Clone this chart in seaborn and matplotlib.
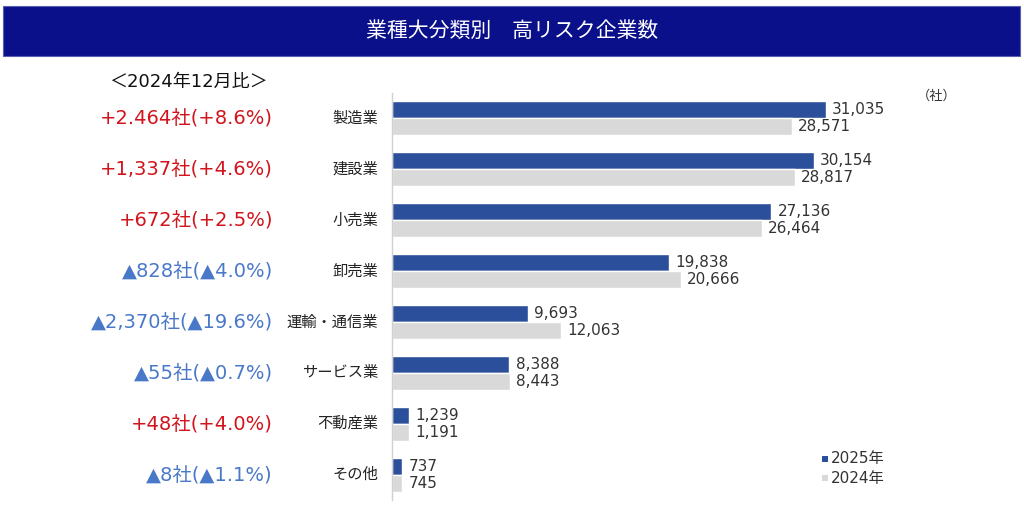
import matplotlib
matplotlib.use("Agg")
import matplotlib.pyplot as plt
import seaborn as sns
import pandas as pd
from matplotlib.patches import Rectangle

categories = ["製造業", "建設業", "小売業", "卸売業", "運輸・通信業", "サービス業", "不動産業", "その他"]
values_2025 = [31035, 30154, 27136, 19838, 9693, 8388, 1239, 737]
values_2024 = [28571, 28817, 26464, 20666, 12063, 8443, 1191, 745]
series = ["2025年", "2024年"]
change_labels = ["+2.464社(+8.6%)", "+1,337社(+4.6%)", "+672社(+2.5%)", "▲828社(▲4.0%)",
                 "▲2,370社(▲19.6%)", "▲55社(▲0.7%)", "+48社(+4.0%)", "▲8社(▲1.1%)"]
change_up = [True, True, True, False, False, False, True, False]
title = "業種大分類別　高リスク企業数"
compare_label = "＜2024年12月比＞"
unit_label = "（社）"

df = pd.DataFrame({
    "業種": categories * 2,
    "企業数": values_2025 + values_2024,
    "年": [series[0]] * len(categories) + [series[1]] * len(categories),
})

sns.set_theme(style="white")
LATIN = ["DejaVu Sans", "Noto Sans CJK JP"]
CJK = ["Noto Sans CJK JP", "DejaVu Sans"]
plt.rcParams["font.family"] = LATIN

BLUE = "#2c4f9b"
GRAY = "#d9d9d9"
NAVY = "#0a0f8a"

fig = plt.figure(figsize=(10.24, 5.05), dpi=100)
W, H = 1024, 505

def fx(px):
    return px / W

def fy(py):
    return 1 - py / H

ax = fig.add_axes([fx(392), fy(500), fx(952 - 392), (500 - 93) / H])
sns.barplot(data=df, y="業種", x="企業数", hue="年", orient="h",
            palette=[BLUE, GRAY], width=0.67, ax=ax, legend=False, saturation=1)
ax.set_xlim(0, 31035 / 434 * 560)
ax.set_ylim(len(categories) - 0.5, -0.5)
ax.set_xlabel("")
ax.set_ylabel("")
ax.set_xticks([])
ax.set_yticks([])
for s in ["top", "right", "bottom"]:
    ax.spines[s].set_visible(False)
ax.spines["left"].set_color("#d0d0d0")
ax.spines["left"].set_linewidth(1.0)

for k, container in enumerate(ax.containers):
    ax.bar_label(container, labels=[f"{int(v.get_width()):,}" for v in container],
                 padding=4.5, fontsize=11, color="#333333")

for i, cat in enumerate(categories):
    ax.annotate(cat, xy=(0, i), xycoords=("axes fraction", "data"),
                xytext=(-10, 0), textcoords="offset points", ha="right", va="center",
                fontsize=11, color="#222222", family=CJK)
    col = "#d2141c" if change_up[i] else "#4a78c8"
    ax.annotate(change_labels[i], xy=(0, i), xycoords=("axes fraction", "data"),
                xytext=(-(392 - 273) * 0.72, 0), textcoords="offset points",
                ha="right", va="center", fontsize=14, color=col)

fig.patches.append(Rectangle((fx(3), fy(56)), fx(1020 - 3), (56 - 6) / H,
                             transform=fig.transFigure, facecolor=NAVY,
                             edgecolor="#5a60b0", linewidth=0.8, zorder=0))
fig.text(fx(512), fy(31), title, ha="center", va="center", color="white",
         fontsize=15, family=CJK)

fig.text(fx(188), fy(82), compare_label, ha="center", va="center", fontsize=13, color="#111111")
fig.text(fx(937), fy(96), unit_label, ha="center", va="center", fontsize=9.5, color="#333333",
         family=CJK)

for j, (lab, col) in enumerate(zip(series, [BLUE, GRAY])):
    yy = 459 + j * 19
    fig.patches.append(Rectangle((fx(822), fy(yy + 3)), fx(6), 6 / H,
                                 transform=fig.transFigure, facecolor=col, edgecolor="none"))
    fig.text(fx(831), fy(yy), lab, ha="left", va="center", fontsize=11, color="#333333")

fig.savefig("out.png", dpi=100, facecolor="white")
